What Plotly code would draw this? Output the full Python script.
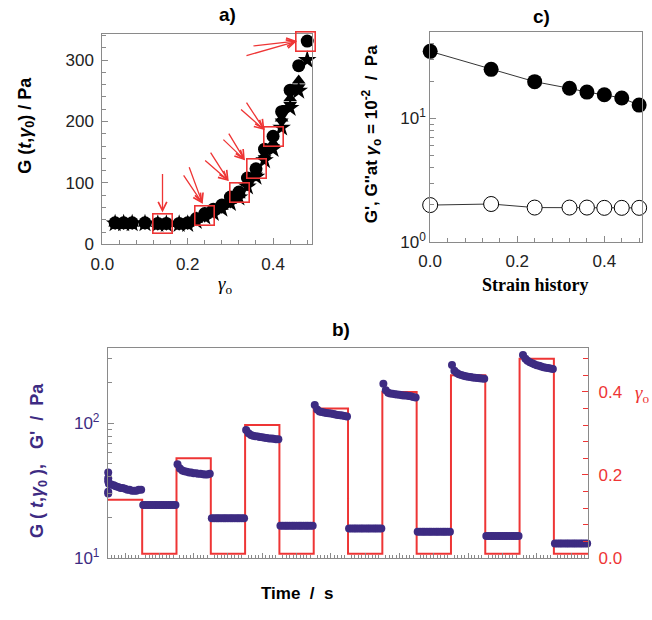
import plotly.graph_objects as go

# ---------------- Panel a data ----------------
gamma_a = [0.03, 0.05, 0.07, 0.10, 0.13, 0.15, 0.18, 0.20, 0.22, 0.24, 0.26, 0.28,
           0.30, 0.32, 0.34, 0.36, 0.38, 0.40, 0.42, 0.44, 0.46, 0.48]
G_circle = [35, 35, 35, 35, 34, 34, 34, 35, 42, 50, 57, 64, 77, 85, 108, 123, 155, 176, 216, 251, 291, 331]
G_tri_up = [34, 34, 34, 34, 33, 33, 33, 34, 40, 47, 54, 61, 71, 80, 100, 117, 145, 165, 205, 238, 267]
G_tri_down = [33, 33, 33, 33, 32, 32, 32, 33, 39, 45, 52, 59, 68, 77, 96, 112, 140, 158, 200, 227, 256]
G_star = [34, 34, 34, 34, 33, 33, 33, 33, 38, 45, 51, 58, 67, 76, 94, 110, 137, 155, 190, 222, 250, 300]

# highlighted points (box centres) and arrow tips / tails (pixel offsets)
box_x = [0.140, 0.240, 0.321, 0.361, 0.401, 0.477]
box_y = [34, 47, 84, 124, 175, 331]
arrow_tip_x = [0.141, 0.235, 0.296, 0.334, 0.380, 0.456]
arrow_tip_y = [52, 66, 103, 137, 186, 331]
arrow_ax = [[0], [-14, -20], [-19, -25], [-17, -23], [-19, -25], [-52, -45]]
arrow_ay = [[-40], [-38, -30], [-30, -22], [-28, -22], [-29, -22], [15, 5]]

# ---------------- Panel c data ----------------
strain_hist = [0.0, 0.14, 0.24, 0.32, 0.36, 0.40, 0.44, 0.48]
G_storage = [34.8, 24.9, 19.8, 17.5, 16.3, 15.5, 14.6, 12.8]
G_loss = [1.99, 2.03, 1.90, 1.90, 1.90, 1.89, 1.89, 1.89]

# ---------------- Panel b data ----------------
step_gamma = [0.14, 0.01, 0.24, 0.01, 0.32, 0.01, 0.36, 0.01, 0.40, 0.01, 0.44, 0.01, 0.48, 0.01]
sample_frac = [0.03, 0.10, 0.17, 0.23, 0.30, 0.37, 0.43, 0.50, 0.57, 0.63, 0.70, 0.77, 0.83, 0.90, 0.97]
G_steps = [
    [35.5, 35, 34.5, 34, 33.5, 33, 33, 32.5, 32, 32, 31.5, 31.5, 31.5, 32, 32],
    [24.7, 24.7, 24.7, 24.7, 24.7, 24.7, 24.7, 24.7, 24.7, 24.7, 24.7, 24.7, 24.7, 24.7, 24.7],
    [49.5, 46, 44.5, 44, 43.5, 43, 43, 42.5, 42.5, 42, 42, 41.8, 41.5, 41.5, 42],
    [19.7, 19.7, 19.7, 19.7, 19.7, 19.7, 19.7, 19.7, 19.7, 19.7, 19.7, 19.7, 19.7, 19.7, 19.7],
    [89, 84, 81.5, 80.5, 80, 79.5, 79, 78.5, 78, 77.5, 77, 77, 76.5, 76, 76],
    [17.3, 17.3, 17.3, 17.3, 17.3, 17.3, 17.3, 17.3, 17.3, 17.3, 17.3, 17.3, 17.3, 17.3, 17.3],
    [136, 126, 122, 121, 120, 119, 118.5, 118, 117, 116, 115, 114.5, 114, 113, 112],
    [16.5, 16.5, 16.5, 16.5, 16.5, 16.5, 16.5, 16.5, 16.5, 16.5, 16.5, 16.5, 16.5, 16.5, 16.5],
    [196, 175, 168, 166, 165, 164, 163, 162, 161, 160, 160, 159, 158, 156, 155],
    [15.6, 15.6, 15.6, 15.6, 15.6, 15.6, 15.6, 15.6, 15.6, 15.6, 15.6, 15.6, 15.6, 15.6, 15.6],
    [270, 245, 235, 230, 227, 225, 223, 221, 220, 218, 217, 216, 215, 214, 213],
    [14.5, 14.5, 14.5, 14.5, 14.5, 14.5, 14.5, 14.5, 14.5, 14.5, 14.5, 14.5, 14.5, 14.5, 14.5],
    [360, 320, 300, 290, 283, 278, 273, 269, 266, 263, 260, 258, 256, 254, 252],
    [12.8, 12.8, 12.8, 12.8, 12.8, 12.8, 12.8, 12.8, 12.8, 12.8, 12.8, 12.8, 12.8, 12.8, 12.8],
]
initial_scatter = [43, 39, 37, 31, 30]

PURPLE = "#3d2b82"
RED = "#ee3535"
GRAY = "#8a8a8a"
FONT = "Liberation Sans, Arial, sans-serif"
SERIF = "Liberation Serif, Times New Roman, serif"

fig = go.Figure()

# ---- panel a traces ----
n_up = len(G_tri_up)
n_dn = len(G_tri_down)
fig.add_trace(go.Scatter(x=gamma_a[:n_dn], y=G_tri_down, mode="markers", xaxis="x", yaxis="y",
                         cliponaxis=False,
                         marker=dict(symbol="triangle-down", size=12, color="black")))
fig.add_trace(go.Scatter(x=gamma_a[:n_up], y=G_tri_up, mode="markers", xaxis="x", yaxis="y",
                         cliponaxis=False,
                         marker=dict(symbol="triangle-up", size=12, color="black")))
fig.add_trace(go.Scatter(x=gamma_a, y=G_star, mode="markers", xaxis="x", yaxis="y",
                         cliponaxis=False,
                         marker=dict(symbol="star", size=14, color="black")))
fig.add_trace(go.Scatter(x=gamma_a, y=G_circle, mode="markers", xaxis="x", yaxis="y",
                         cliponaxis=False,
                         marker=dict(symbol="circle", size=13, color="black")))

# ---- panel c traces ----
fig.add_trace(go.Scatter(x=strain_hist, y=G_storage, mode="lines+markers", xaxis="x2", yaxis="y2",
                         cliponaxis=False, line=dict(color="black", width=0.8),
                         marker=dict(symbol="circle", size=15, color="black")))
fig.add_trace(go.Scatter(x=strain_hist, y=G_loss, mode="lines+markers", xaxis="x2", yaxis="y2",
                         cliponaxis=False, line=dict(color="black", width=0.8),
                         marker=dict(symbol="circle", size=15, color="white",
                                     line=dict(color="black", width=1))))

# ---- panel b traces ----
step_x = list(range(len(step_gamma) + 1))
step_y = step_gamma + [step_gamma[-1]]
fig.add_trace(go.Scatter(x=step_x, y=step_y, mode="lines", line_shape="hv", xaxis="x3", yaxis="y3",
                         line=dict(color=RED, width=2)))
bx, by = [], []
for i, vals in enumerate(G_steps):
    for f, v in zip(sample_frac, vals):
        bx.append(i + f)
        by.append(v)
for v in initial_scatter:
    bx.append(0.01)
    by.append(v)
fig.add_trace(go.Scatter(x=bx, y=by, mode="markers", xaxis="x3", yaxis="y4", cliponaxis=False,
                         marker=dict(size=8, color=PURPLE)))

# ---- annotations: boxes and arrows in panel a ----
annotations = []
for xc, yc in zip(box_x, box_y):
    annotations.append(dict(x=xc, y=yc, xref="x", yref="y", text=" ", showarrow=False,
                            width=18, height=18, bordercolor=RED, borderwidth=1.6, borderpad=0,
                            font=dict(size=4)))
for xt, yt, axs, ays in zip(arrow_tip_x, arrow_tip_y, arrow_ax, arrow_ay):
    for a_x, a_y in zip(axs, ays):
        annotations.append(dict(x=xt, y=yt, xref="x", yref="y", text="", showarrow=True,
                                ax=a_x, ay=a_y, arrowhead=5, arrowsize=1.3, arrowwidth=1.3,
                                arrowcolor=RED))

def label(text, x, y, size=17, color="black", angle=0, family=FONT, xanchor="center"):
    return dict(text=text, x=x, y=y, xref="paper", yref="paper", showarrow=False,
                textangle=angle, xanchor=xanchor, yanchor="middle",
                font=dict(family=family, size=size, color=color))

annotations += [
    label("<b>a)</b>", 0.3374, 0.9758, size=19),
    label("<b>c)</b>", 0.828, 0.9726, size=19),
    label("<b>b)</b>", 0.5138, 0.4597, size=19),
    label("<b>G (<i>t</i>,<i>γ</i><sub>0</sub>) / Pa</b>", 0.0215, 0.795, size=18, angle=-90),
    label("<i>γ</i><sub>o</sub>", 0.334, 0.532, size=19, family=SERIF),
    label("<b>G', G''at <i>γ</i><sub>o</sub> = 10<sup>-2</sup>  /  Pa</b>", 0.561, 0.78, size=17, angle=-90),
    label("<b>Strain history</b>", 0.8175, 0.532, size=18, family=SERIF),
    label("<b>G ( <i>t</i>,<i>γ</i><sub>0</sub> ),   G'  /  Pa</b>", 0.0414, 0.245, size=18,
          color=PURPLE, angle=-90),
    label("<b>Time  /  s</b>", 0.445, 0.0274, size=17),
    label("<i>γ</i><sub>o</sub>", 0.9847, 0.3548, size=19, color=RED, family=SERIF),
]

axis_common = dict(showline=True, linecolor=GRAY, linewidth=1, mirror=True, showgrid=False,
                   zeroline=False, ticks="inside", tickcolor=GRAY, ticklen=6,
                   tickfont=dict(family=FONT, size=17, color="#222"))

seg_n = len(step_gamma)
major_b = [i + 0.5 for i in range(seg_n)]
minor_b = [i + k / 10 for i in range(seg_n) for k in range(1, 10) if k != 5]

fig.update_layout(
    width=652, height=620, margin=dict(l=0, r=0, t=0, b=0),
    paper_bgcolor="white", plot_bgcolor="white", showlegend=False,
    annotations=annotations,
    xaxis=dict(axis_common, domain=[0.1411, 0.4693], anchor="y", range=[0, 0.492],
               tickvals=[0, 0.2, 0.4], ticktext=["0.0", "0.2", "0.4"], ticklabelstandoff=4,
               minor=dict(dtick=0.04, tick0=0, ticks="inside", ticklen=4, tickcolor=GRAY)),
    yaxis=dict(axis_common, domain=[0.5995, 0.9447], anchor="x", range=[0, 343],
               tickvals=[0, 100, 200, 300], ticklabelstandoff=4,
               minor=dict(dtick=20, tick0=0, ticks="inside", ticklen=4, tickcolor=GRAY)),
    xaxis2=dict(axis_common, domain=[0.6534, 0.9847], anchor="y2", range=[0, 0.487],
                tickvals=[0, 0.2, 0.4], ticktext=["0.0", "0.2", "0.4"], ticklabelstandoff=4,
                minor=dict(dtick=0.04, tick0=0, ticks="inside", ticklen=4, tickcolor=GRAY)),
    yaxis2=dict(axis_common, domain=[0.6032, 0.9479], anchor="x2", type="log", range=[0, 1.70],
                tickvals=[1, 10], ticktext=["10<sup>0</sup>", "10<sup>1</sup>"],
                minor=dict(tickvals=[2, 3, 4, 5, 6, 7, 8, 9, 20, 30, 40], ticks="inside",
                           ticklen=4, tickcolor=GRAY)),
    xaxis3=dict(axis_common, domain=[0.1498, 0.9003], anchor="y3", range=[0, seg_n],
                tickvals=major_b, showticklabels=False, ticklen=5,
                minor=dict(tickvals=minor_b, ticks="inside", ticklen=3, tickcolor=GRAY)),
    yaxis3=dict(axis_common, domain=[0.0855, 0.4290], anchor="x3", side="right", range=[0, 0.505],
                tickvals=[0.0, 0.2, 0.4], ticktext=["0.0", "0.2", "0.4"], mirror=False,
                tickcolor=RED, tickfont=dict(family=FONT, size=17, color=RED),
                ticklabelstandoff=6,
                minor=dict(dtick=0.04, tick0=0, ticks="inside", ticklen=5, tickcolor=RED)),
    yaxis4=dict(axis_common, anchor="x3", overlaying="y3", side="left", type="log",
                range=[1, 2.555], mirror=False,
                tickvals=[10, 100], ticktext=["10<sup>1</sup>", "10<sup>2</sup>"],
                tickfont=dict(family=FONT, size=17, color=PURPLE), ticklabelstandoff=4,
                minor=dict(tickvals=[20, 30, 40, 50, 60, 70, 80, 90, 200, 300], ticks="inside",
                           ticklen=4, tickcolor=GRAY)),
)

fig.write_html("out.html")
